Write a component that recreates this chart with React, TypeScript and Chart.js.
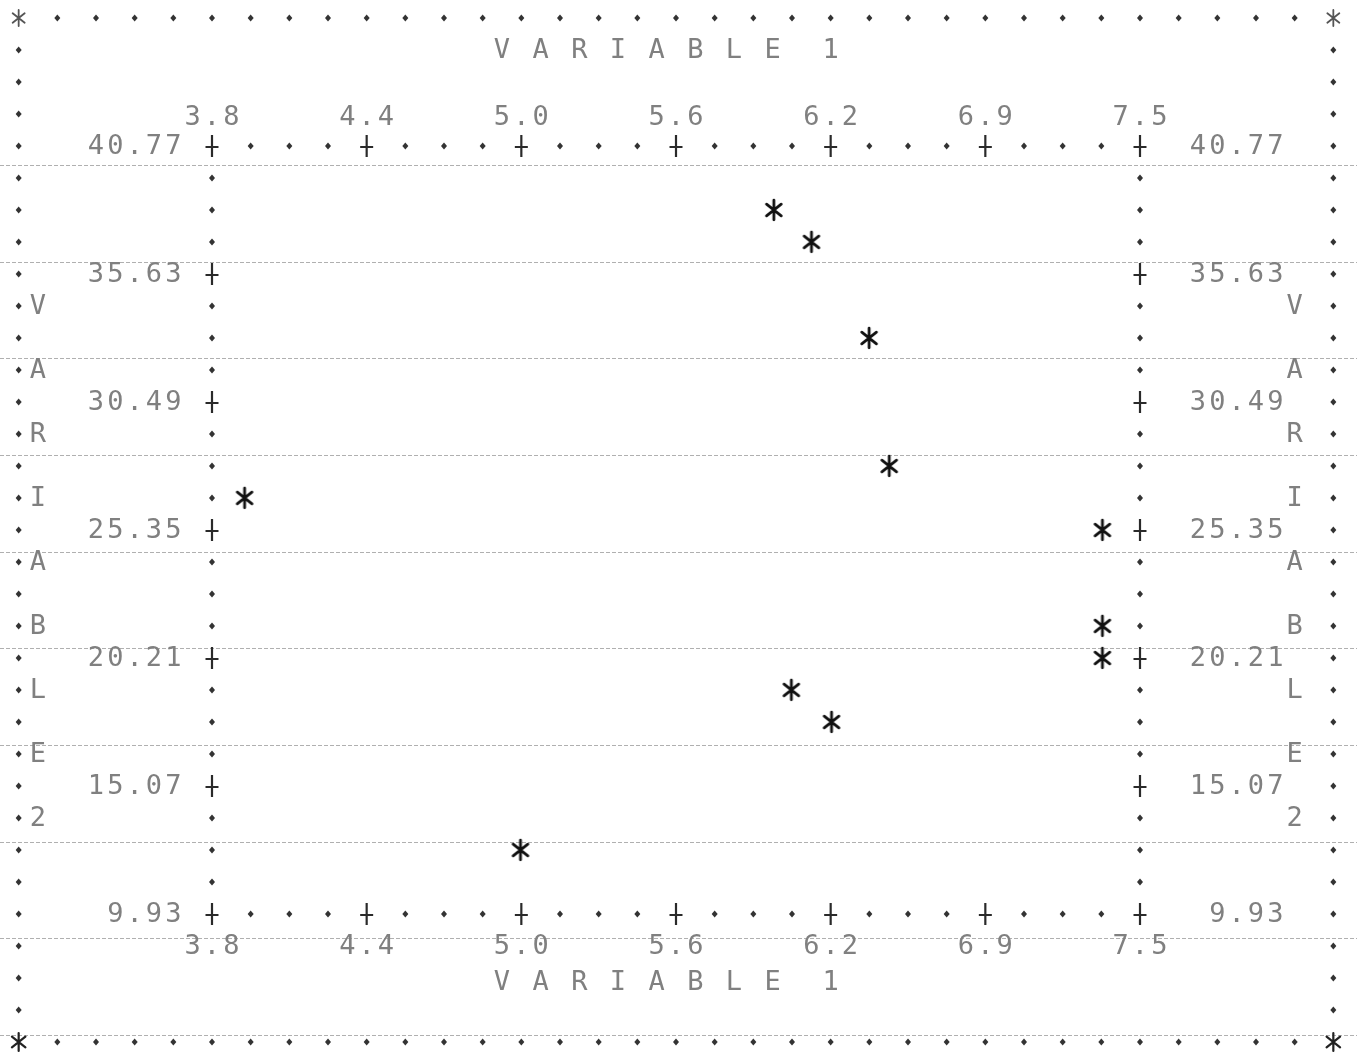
import React, { useEffect, useRef } from "react";
import { Chart, registerables } from "chart.js";

Chart.register(...registerables);

// ---- data ----
const xValues = [6.04, 6.19, 6.42, 6.5, 3.93, 7.35, 7.35, 7.35, 6.11, 6.27, 5.03];
const yValues = [38.2, 36.92, 33.06, 27.92, 26.64, 25.35, 21.5, 20.21, 18.93, 17.64, 12.5];
const xTickLabels = ["3.8", "4.4", "5.0", "5.6", "6.2", "6.9", "7.5"];
const yTickValues = [40.77, 35.63, 30.49, 25.35, 20.21, 15.07, 9.93];
const yTickLabels = ["40.77", "35.63", "30.49", "25.35", "20.21", "15.07", "9.93"];
const xAxisTitle = "V A R I A B L E  1";
const yAxisTitle = ["V", "A", "R", "I", "A", "B", "L", "E", "2"];
const X_MIN = 3.8;
const X_MAX = 7.5;
const Y_MIN = 9.93;
const Y_MAX = 40.77;

const FONT = '27px "DejaVu Sans Mono", "Liberation Mono", monospace';
const TEXT_COLOR = "#808080";

function strokeAsterisk(ctx: CanvasRenderingContext2D, x: number, y: number, s: number, color: string, lw: number) {
  ctx.save();
  ctx.strokeStyle = color;
  ctx.lineWidth = lw;
  ctx.lineCap = "round";
  ctx.beginPath();
  ctx.moveTo(x, y - s);
  ctx.lineTo(x, y + s);
  ctx.moveTo(x - 0.75 * s, y - 0.6 * s);
  ctx.lineTo(x + 0.75 * s, y + 0.6 * s);
  ctx.moveTo(x - 0.75 * s, y + 0.6 * s);
  ctx.lineTo(x + 0.75 * s, y - 0.6 * s);
  ctx.stroke();
  ctx.restore();
}

function makeAsterisk(): HTMLCanvasElement {
  const c = document.createElement("canvas");
  c.width = 26;
  c.height = 26;
  const g = c.getContext("2d")!;
  strokeAsterisk(g, 13, 13, 9.8, "#111", 2.8);
  return c;
}

function diamond(ctx: CanvasRenderingContext2D, x: number, y: number, r: number, color: string) {
  ctx.save();
  ctx.fillStyle = color;
  ctx.beginPath();
  ctx.moveTo(x, y - r * 1.2);
  ctx.lineTo(x + r, y);
  ctx.lineTo(x, y + r * 1.2);
  ctx.lineTo(x - r, y);
  ctx.closePath();
  ctx.fill();
  ctx.restore();
}

function plus(ctx: CanvasRenderingContext2D, x: number, y: number) {
  ctx.save();
  ctx.strokeStyle = "#2a2a2a";
  ctx.lineWidth = 2.2;
  ctx.beginPath();
  ctx.moveTo(x, y - 11);
  ctx.lineTo(x, y + 11);
  ctx.stroke();
  ctx.lineWidth = 2;
  ctx.beginPath();
  ctx.moveTo(x - 6.5, y + 1);
  ctx.lineTo(x + 6.5, y + 1);
  ctx.stroke();
  ctx.restore();
}

const printerPlugin = {
  id: "printerFrame",
  beforeDraw(chart: any) {
    const ctx = chart.ctx as CanvasRenderingContext2D;
    ctx.save();
    ctx.fillStyle = "#ffffff";
    ctx.fillRect(0, 0, chart.width, chart.height);
    ctx.restore();
  },
  beforeDatasetsDraw(chart: any) {
    const ctx = chart.ctx as CanvasRenderingContext2D;
    const xs = chart.scales.x;
    const ys = chart.scales.y;
    const left = xs.getPixelForValue(X_MIN);
    const right = xs.getPixelForValue(X_MAX);
    const top = ys.getPixelForValue(Y_MAX);
    const bottom = ys.getPixelForValue(Y_MIN);
    const nTicks = xTickLabels.length - 1;
    const colsPerTick = 8;
    const rowsPerTick = 4;
    const cw = (right - left) / (nTicks * colsPerTick);
    const rh = (bottom - top) / ((yTickValues.length - 1) * rowsPerTick);
    const leftCol = 10;
    const rightCol = leftCol + nTicks * colsPerTick; // 58
    const topRow = 4;
    const bottomRow = topRow + (yTickValues.length - 1) * rowsPerTick; // 28
    const lastCol = 68;
    const lastRow = 32;
    const colX = (c: number) => left + (c - leftCol) * cw;
    const rowY = (r: number) => top + (r - topRow) * rh;

    // faint paper lines of the scanned listing
    ctx.save();
    ctx.strokeStyle = "rgba(80,80,80,0.45)";
    ctx.lineWidth = 1;
    ctx.setLineDash([4, 2]);
    for (let k = 0; k < 10; k++) {
      const y = Math.round(rowY(4.6 + 3.02 * k)) + 0.5;
      ctx.beginPath();
      ctx.moveTo(0, y);
      ctx.lineTo(chart.width, y);
      ctx.stroke();
    }
    ctx.restore();

    const dotColor = "#333";
    const dotR = 3;
    // outer page frame
    for (let c = 2; c < lastCol; c += 2) {
      diamond(ctx, colX(c), rowY(0), dotR, dotColor);
      diamond(ctx, colX(c), rowY(lastRow), dotR, dotColor);
    }
    for (let r = 1; r < lastRow; r++) {
      diamond(ctx, colX(0), rowY(r), dotR, dotColor);
      diamond(ctx, colX(lastCol), rowY(r), dotR, dotColor);
    }
    strokeAsterisk(ctx, colX(0), rowY(0), 8, "#555", 1.8);
    strokeAsterisk(ctx, colX(lastCol), rowY(0), 8, "#555", 1.8);
    strokeAsterisk(ctx, colX(0), rowY(lastRow), 9, "#222", 2.2);
    strokeAsterisk(ctx, colX(lastCol), rowY(lastRow), 9, "#222", 2.2);

    // plot box: horizontal edges
    for (let c = leftCol; c <= rightCol; c += 2) {
      const isTick = (c - leftCol) % colsPerTick === 0;
      for (const r of [topRow, bottomRow]) {
        if (isTick) plus(ctx, colX(c), rowY(r));
        else diamond(ctx, colX(c), rowY(r), dotR, dotColor);
      }
    }
    // plot box: vertical edges
    for (let r = topRow + 1; r < bottomRow; r++) {
      const isTick = (r - topRow) % rowsPerTick === 0;
      for (const c of [leftCol, rightCol]) {
        if (isTick) plus(ctx, colX(c), rowY(r));
        else diamond(ctx, colX(c), rowY(r), dotR, dotColor);
      }
    }

    // text helper: one character per printer column
    ctx.save();
    ctx.font = FONT;
    ctx.fillStyle = TEXT_COLOR;
    ctx.textAlign = "center";
    ctx.textBaseline = "middle";
    const put = (s: string, startCol: number, r: number, dy = 1) => {
      for (let i = 0; i < s.length; i++) {
        if (s[i] !== " ") ctx.fillText(s[i], colX(startCol + i), rowY(r) + dy);
      }
    };

    // x tick labels (top and bottom), centred on the tick
    xTickLabels.forEach((lab, i) => {
      const v = X_MIN + (i * (X_MAX - X_MIN)) / nTicks;
      const c = leftCol + Math.round((xs.getPixelForValue(v) - left) / cw);
      const start = c - Math.floor(lab.length / 2);
      put(lab, start, topRow - 1, 4);
      put(lab, start, bottomRow + 1, 1);
    });

    // y tick labels (left and right), right aligned
    yTickValues.forEach((v, i) => {
      const lab = yTickLabels[i];
      const r = topRow + Math.round((ys.getPixelForValue(v) - top) / rh);
      put(lab, 8 - lab.length + 1, r);
      put(lab, 65 - lab.length + 1, r);
    });

    // axis titles
    put(xAxisTitle, 25, 1);
    put(xAxisTitle, 25, lastRow - 2, 5);
    yAxisTitle.forEach((ch, i) => {
      put(ch, 1, 9 + i * 2);
      put(ch, 66, 9 + i * 2);
    });
    ctx.restore();
  },
};

export default function App() {
  const ref = useRef<HTMLCanvasElement>(null);
  useEffect(() => {
    const canvas = ref.current;
    if (!canvas) return;
    const star = makeAsterisk();
    const chart = new Chart(canvas, {
      type: "scatter",
      data: {
        datasets: [
          {
            data: xValues.map((x, i) => ({ x, y: yValues[i] })),
            pointStyle: star as any,
            pointRadius: 10,
            pointHoverRadius: 10,
            backgroundColor: "#111",
            borderColor: "#111",
          },
        ],
      },
      options: {
        responsive: false,
        animation: false,
        devicePixelRatio: 1,
        events: [],
        layout: { padding: { left: 212, right: 217, top: 146, bottom: 140 } },
        scales: {
          x: { type: "linear", min: X_MIN, max: X_MAX, display: false },
          y: { type: "linear", min: Y_MIN, max: Y_MAX, display: false },
        },
        plugins: {
          legend: { display: false },
          tooltip: { enabled: false },
          title: { display: false },
        },
      },
      plugins: [printerPlugin as any],
    });
    return () => chart.destroy();
  }, []);
  return (
    <div style={{ position: "absolute", left: 0, top: 0, width: 1357, height: 1054, background: "#fff" }}>
      <canvas ref={ref} width={1357} height={1054} style={{ display: "block", width: 1357, height: 1054 }} />
    </div>
  );
}
